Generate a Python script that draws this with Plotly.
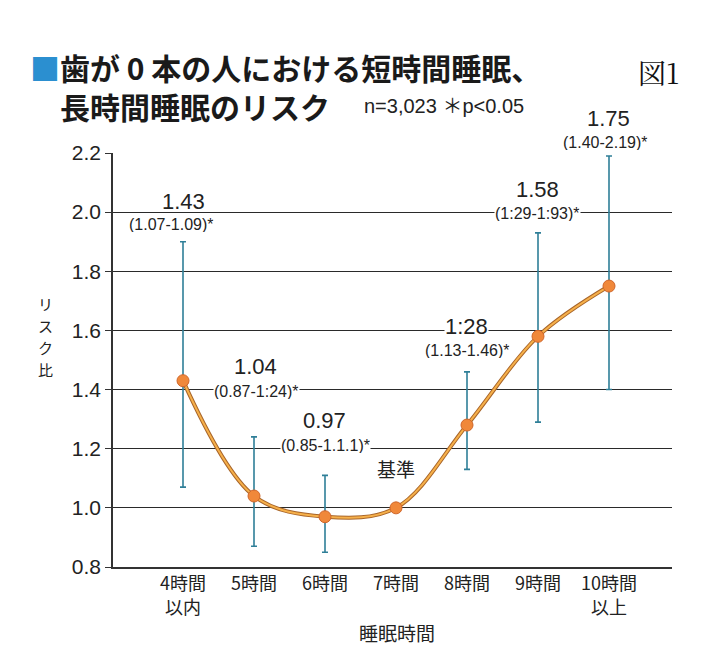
import plotly.graph_objects as go

categories = ["4時間<br>以内", "5時間", "6時間", "7時間", "8時間", "9時間", "10時間<br>以上"]
risk = [1.43, 1.04, 0.97, 1.00, 1.28, 1.58, 1.75]
ci_low = [1.07, 0.87, 0.85, None, 1.13, 1.29, 1.40]
ci_high = [1.90, 1.24, 1.11, None, 1.46, 1.93, 2.19]
value_labels = ["1.43", "1.04", "0.97", "基準", "1:28", "1.58", "1.75"]
ci_labels = ["(1.07-1.09)*", "(0.87-1:24)*", "(0.85-1.1.1)*", "", "(1.13-1.46)*", "(1:29-1:93)*", "(1.40-2.19)*"]
y_ticks = [0.8, 1.0, 1.2, 1.4, 1.6, 1.8, 2.0, 2.2]
title_line1 = "歯が 0 本の人における短時間睡眠、"
title_line2 = "長時間睡眠のリスク"
note = "n=3,023 ＊p<0.05"
fig_label = "図1"
y_title = "リスク比"
x_title = "睡眠時間"

OFF = 8  # page body margin
W, H = 706 - OFF, 659 - OFF
L, R, T, B = 113, 672, 153, 567  # plot area in screenshot pixels
SANS = "Liberation Sans, Arial, Noto Sans CJK JP, sans-serif"
CJK = "Noto Sans CJK JP, sans-serif"


def px(x):
    return (x - L) / (R - L)


def py(y):
    return (B - y) / (B - T)


xs = list(range(len(categories)))
err_plus = [0 if h is None else h - v for h, v in zip(ci_high, risk)]
err_minus = [0 if l is None else v - l for l, v in zip(ci_low, risk)]

fig = go.Figure()

fig.add_trace(go.Scatter(
    x=xs, y=risk, mode="markers",
    marker=dict(size=1, color="rgba(0,0,0,0)"),
    error_y=dict(type="data", symmetric=False, array=err_plus, arrayminus=err_minus,
                 color="#2f7f98", thickness=1.6, width=3, visible=True),
    showlegend=False, hoverinfo="skip"))

fig.add_trace(go.Scatter(x=xs, y=risk, mode="lines",
                         line=dict(shape="spline", smoothing=1.0, color="#a8652a", width=4),
                         showlegend=False, hoverinfo="skip"))
fig.add_trace(go.Scatter(x=xs, y=risk, mode="lines+markers",
                         line=dict(shape="spline", smoothing=1.0, color="#f6b04a", width=2),
                         marker=dict(size=12, color="#f0883a",
                                     line=dict(color="#d0662a", width=1)),
                         showlegend=False))

ann = []
val_pos = [(183, 201), (255, 366), (324, 420), (396, 468), (466, 326), (537, 189), (608, 118)]
ci_pos = [(171, 224), (256, 391), (325, 445), None, (467, 350), (537, 213), (605, 143)]
for i, (vl, cl) in enumerate(zip(value_labels, ci_labels)):
    vx, vy = val_pos[i]
    is_cjk = vl == "基準"
    ann.append(dict(x=px(vx), y=py(vy), xref="paper", yref="paper", text=vl,
                    showarrow=False, xanchor="center", yanchor="middle",
                    font=dict(family=CJK if is_cjk else SANS, size=19 if is_cjk else 22, color="#222"),
                    bgcolor=None if is_cjk else "white", borderpad=0,
                    height=None if is_cjk else 18))
    if cl:
        cx, cy = ci_pos[i]
        ann.append(dict(x=px(cx), y=py(cy), xref="paper", yref="paper", text=cl,
                        showarrow=False, xanchor="center", yanchor="middle",
                        font=dict(family=SANS, size=16, color="#222"),
                        bgcolor="white", borderpad=0, height=15))

ann.append(dict(x=px(28), y=py(87), xref="paper", yref="paper",
                text="<span style='color:#2b8fd0'>■</span><b>" + title_line1 + "</b><br>"
                     + "<b>\u3000" + title_line2 + "</b>",
                showarrow=False, xanchor="left", yanchor="middle", align="left",
                font=dict(family=CJK, size=30, color="#1a1a1a")))
ann.append(dict(x=px(362), y=py(106), xref="paper", yref="paper", text=note,
                showarrow=False, xanchor="left", yanchor="middle",
                font=dict(family=SANS, size=20, color="#222")))
ann.append(dict(x=px(658), y=py(72), xref="paper", yref="paper", text=fig_label,
                showarrow=False, xanchor="center", yanchor="middle",
                font=dict(family="Noto Serif CJK JP, serif", size=28, color="#111")))

for k, ch in enumerate(y_title):
    ann.append(dict(x=px(45), y=py(303 + k * 22), xref="paper", yref="paper", text=ch,
                    showarrow=False, xanchor="center", yanchor="middle",
                    font=dict(family=CJK, size=15, color="#222")))

ann.append(dict(x=px(397), y=py(632), xref="paper", yref="paper", text=x_title,
                showarrow=False, xanchor="center", yanchor="middle",
                font=dict(family=CJK, size=19, color="#222")))

fig.update_layout(
    width=W, height=H,
    margin=dict(l=L - OFF, r=W - (R - OFF), t=T - OFF, b=H - (B - OFF), pad=0),
    paper_bgcolor="white", plot_bgcolor="white",
    annotations=ann,
    xaxis=dict(range=[(L - 183) / 71.0, (R - 183) / 71.0],
               tickmode="array", tickvals=xs, ticktext=categories,
               showgrid=False, zeroline=False, showline=True,
               linecolor="#333", linewidth=1.6, ticks="",
               tickfont=dict(family=CJK, size=18, color="#222")),
    yaxis=dict(range=[0.8, 2.2], tickmode="array", tickvals=y_ticks,
               ticktext=[f"{v:.1f}" for v in y_ticks],
               showgrid=True, gridcolor="#2a2a2a", gridwidth=1.4,
               zeroline=False, showline=True, linecolor="#333", linewidth=1.6,
               ticks="outside", ticklen=6, tickcolor="#333", tickwidth=1.4,
               tickfont=dict(family=SANS, size=21, color="#222")),
    font=dict(family=SANS),
)

fig.write_html("out.html")
